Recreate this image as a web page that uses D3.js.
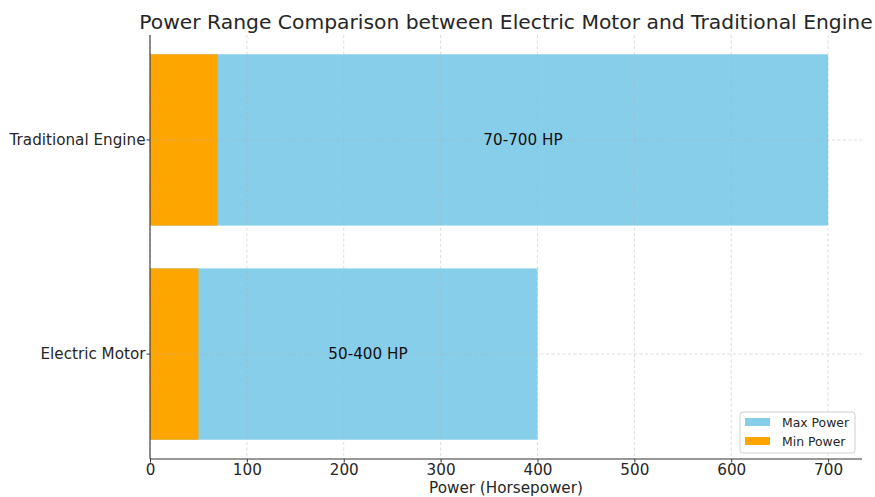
<!DOCTYPE html>
<html>
<head>
<meta charset="utf-8">
<script src="https://cdn.jsdelivr.net/npm/d3@7"></script>
<style>
  html, body { margin: 0; padding: 0; background: #fff; }
  svg { display: block; font-family: "DejaVu Sans", sans-serif; }
</style>
</head>
<body>
<svg id="chart" width="875" height="497"></svg>
<script>
// Power ranges per power source (horsepower)
const categories = ["Traditional Engine", "Electric Motor"];
const minPower = [70, 50];
const maxPower = [700, 400];
const rangeLabels = ["70-700 HP", "50-400 HP"];
const xTicks = [0, 100, 200, 300, 400, 500, 600, 700];
const seriesNames = ["Max Power", "Min Power"];
const seriesColors = ["#87CEEB", "#FFA500"];

const svg = d3.select("#chart");
const m = { left: 150, top: 35, right: 862, bottom: 459 };

const x = d3.scaleLinear().domain([0, 735]).range([m.left, m.right]);
const y = d3.scaleBand().domain(categories).range([m.top, m.bottom])
  .paddingInner(0.2).paddingOuter(0.09);

// Title
svg.append("text")
  .attr("x", (m.left + m.right) / 2)
  .attr("y", 29)
  .attr("text-anchor", "middle")
  .attr("font-size", 20.3)
  .attr("fill", "#262626")
  .text("Power Range Comparison between Electric Motor and Traditional Engine");

// Max power bars (drawn first), min power bars on top
const rows = categories.map((c, i) => ({ c, min: minPower[i], max: maxPower[i], label: rangeLabels[i] }));

svg.append("g").selectAll("rect").data(rows).join("rect")
  .attr("x", x(0))
  .attr("y", d => y(d.c))
  .attr("width", d => x(d.max) - x(0))
  .attr("height", y.bandwidth())
  .attr("fill", seriesColors[0]);

svg.append("g").selectAll("rect").data(rows).join("rect")
  .attr("x", x(0))
  .attr("y", d => y(d.c))
  .attr("width", d => x(d.min) - x(0))
  .attr("height", y.bandwidth())
  .attr("fill", seriesColors[1]);

// Grid lines
const grid = svg.append("g")
  .attr("stroke", "#b0b0b0")
  .attr("stroke-opacity", 0.55)
  .attr("stroke-width", 0.8)
  .attr("stroke-dasharray", "3,2.5");
grid.selectAll(".gx").data(xTicks).join("line")
  .attr("x1", d => x(d)).attr("x2", d => x(d))
  .attr("y1", m.top).attr("y2", m.bottom);
grid.selectAll(".gy").data(categories).join("line")
  .attr("x1", m.left).attr("x2", m.right)
  .attr("y1", d => y(d) + y.bandwidth() / 2)
  .attr("y2", d => y(d) + y.bandwidth() / 2);

// Range labels centred between min and max
svg.append("g").selectAll("text").data(rows).join("text")
  .attr("x", d => x((d.min + d.max) / 2))
  .attr("y", d => y(d.c) + y.bandwidth() / 2)
  .attr("dy", "0.35em")
  .attr("text-anchor", "middle")
  .attr("font-size", 15.2)
  .attr("fill", "#111")
  .text(d => d.label);

// Axes
const xAxis = svg.append("g")
  .attr("transform", `translate(0,${m.bottom})`)
  .call(d3.axisBottom(x).tickValues(xTicks).tickSize(3.5).tickPadding(2).tickSizeOuter(0));
const yAxis = svg.append("g")
  .attr("transform", `translate(${m.left},0)`)
  .call(d3.axisLeft(y).tickSize(3.5).tickPadding(1).tickSizeOuter(0));

[xAxis, yAxis].forEach(a => {
  a.select(".domain").attr("stroke", "#333").attr("stroke-width", 1.1);
  a.selectAll(".tick line").attr("stroke", "#333");
  a.selectAll(".tick text").attr("font-size", 15.2).attr("fill", "#262626")
    .attr("font-family", "DejaVu Sans, sans-serif");
});
xAxis.select(".domain").attr("d", `M${m.left},0H${m.right}`);
yAxis.select(".domain").attr("d", `M0,${m.top}V${m.bottom}`);

// X axis title
svg.append("text")
  .attr("x", (m.left + m.right) / 2)
  .attr("y", 493)
  .attr("text-anchor", "middle")
  .attr("font-size", 15.2)
  .attr("fill", "#262626")
  .text("Power (Horsepower)");

// Legend
const lg = svg.append("g").attr("transform", "translate(740,412)");
lg.append("rect")
  .attr("width", 115).attr("height", 41).attr("rx", 3)
  .attr("fill", "#fff").attr("fill-opacity", 0.8)
  .attr("stroke", "#d0d0d0");
seriesNames.forEach((n, i) => {
  lg.append("rect")
    .attr("x", 5).attr("y", 6 + i * 19)
    .attr("width", 25).attr("height", 8)
    .attr("fill", seriesColors[i]);
  lg.append("text")
    .attr("x", 42).attr("y", 15 + i * 19)
    .attr("font-size", 12.4)
    .attr("fill", "#262626")
    .text(n);
});
</script>
</body>
</html>
